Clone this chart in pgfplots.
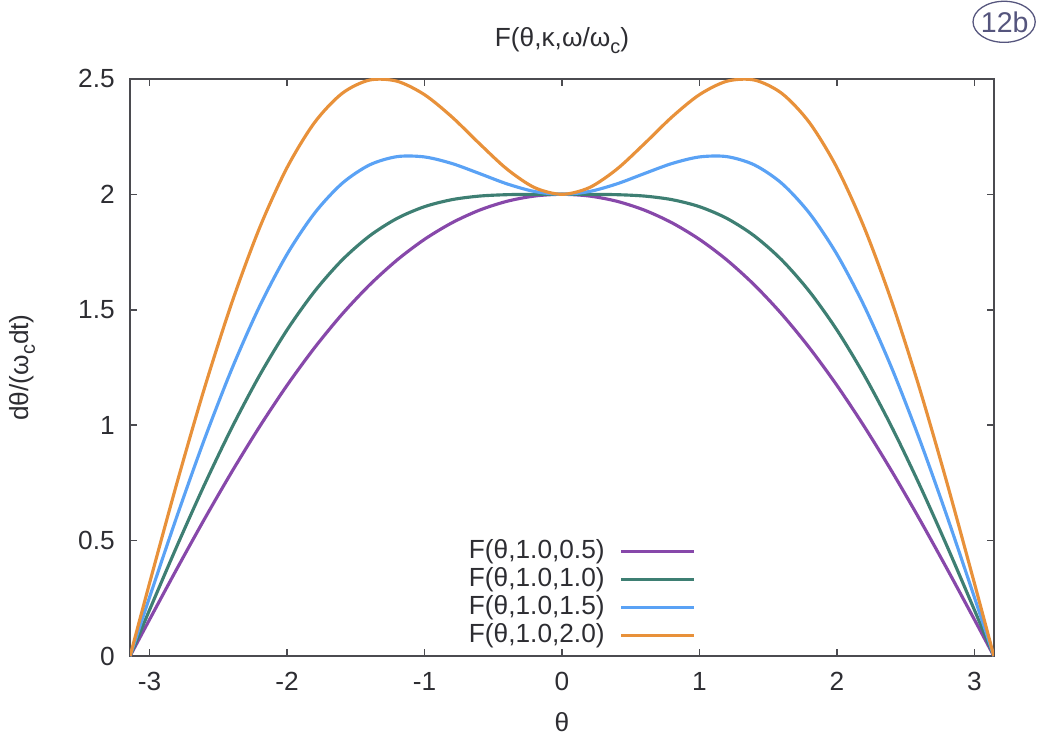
\documentclass[border=0pt]{standalone}
\usepackage{fontspec}
\setmainfont{Liberation Sans}
\usepackage{pgfplots}
\pgfplotsset{compat=1.18}
\usepackage{pgfplotstable}
\usetikzlibrary{calc}

\definecolor{cviolet}{RGB}{135,72,170}
\definecolor{cgreen}{RGB}{62,127,115}
\definecolor{cblue}{RGB}{90,162,245}
\definecolor{corange}{RGB}{232,145,58}
\definecolor{axgray}{RGB}{75,75,80}
\definecolor{txtgray}{RGB}{45,45,50}
\definecolor{pencil}{RGB}{85,85,125}

\newcommand{\lbl}{\fontsize{9.2}{11}\selectfont}
\newcommand{\sub}[1]{\raisebox{-0.45ex}{\fontsize{7}{8}\selectfont #1}}

% F(theta, kappa=1.0, omega/omega_c)
\pgfplotstableread{
theta    w05    w10    w15    w20
-3.1416  0      0      0      0
-3.0     0.1581 0.1998 0.2546 0.3157
-2.8     0.3790 0.4773 0.6067 0.7513
-2.6     0.5939 0.7429 0.9403 1.1616
-2.4     0.7995 0.9907 1.2457 1.5330
-2.2     0.9932 1.2152 1.5145 1.8541
-2.0     1.1724 1.4123 1.7401 2.1154
-1.8     1.3352 1.5792 1.9182 2.3107
-1.6     1.4803 1.7149 2.0469 2.4368
-1.4     1.6071 1.8196 2.1272 2.4949
-1.2     1.7152 1.8956 2.1632 2.4899
-1.0     1.8049 1.9465 2.1619 2.4316
-0.8     1.8767 1.9769 2.1334 2.3349
-0.6     1.9314 1.9924 2.0900 2.2194
-0.4     1.9698 1.9984 2.0453 2.1092
-0.2     1.9925 1.9999 2.0122 2.0293
0.0      2.0000 2.0000 2.0000 2.0000
0.2      1.9925 1.9999 2.0122 2.0293
0.4      1.9698 1.9984 2.0453 2.1092
0.6      1.9314 1.9924 2.0900 2.2194
0.8      1.8767 1.9769 2.1334 2.3349
1.0      1.8049 1.9465 2.1619 2.4316
1.2      1.7152 1.8956 2.1632 2.4899
1.4      1.6071 1.8196 2.1272 2.4949
1.6      1.4803 1.7149 2.0469 2.4368
1.8      1.3352 1.5792 1.9182 2.3107
2.0      1.1724 1.4123 1.7401 2.1154
2.2      0.9932 1.2152 1.5145 1.8541
2.4      0.7995 0.9907 1.2457 1.5330
2.6      0.5939 0.7429 0.9403 1.1616
2.8      0.3790 0.4773 0.6067 0.7513
3.0      0.1581 0.1998 0.2546 0.3157
3.1416   0      0      0      0
}\Fdata

\begin{document}
\begin{tikzpicture}
\begin{axis}[
    scale only axis, width=302.75pt, height=202.3pt,
    xmin=-3.14159, xmax=3.14159, ymin=0, ymax=2.5,
    xtick={-3,-2,-1,0,1,2,3}, xticklabels={-3,-2,-1,0,1,2,3},
    ytick={0,0.5,1,1.5,2,2.5}, yticklabels={0,0.5,1,1.5,2,2.5},
    tick align=inside, major tick length=2.5pt,
    axis line style={axgray, line width=0.55pt},
    tick style={axgray, line width=0.55pt},
    font=\lbl,
    tick label style={font=\lbl, text=txtgray},
    xticklabel style={inner sep=0pt, anchor=north, yshift=-5.4pt},
    yticklabel style={inner sep=0pt, anchor=east, xshift=-5.2pt},
    title={F(θ,κ,ω/ω\sub{c})},
    title style={at={(axis description cs:0.5,1)}, anchor=base, yshift=5.2pt, text=txtgray},
    xlabel={θ},
    xlabel style={at={(axis description cs:0.5,0)}, anchor=base, yshift=-26.3pt, text=txtgray},
    ylabel={dθ/(ω\sub{c}dt)},
    ylabel style={at={(axis description cs:0,0.5)}, anchor=center, yshift=37.8pt, text=txtgray},
    legend plot pos=right,
    legend cell align=right,
    legend image code/.code={\draw[#1] (0pt,0pt) -- (25.5pt,0pt);},
    legend style={draw=none, fill=none, at={(axis description cs:0.665,0.001)}, anchor=south east,
        font=\lbl, text=txtgray,
        nodes={inner sep=0.4pt, text height=6.9pt, text depth=2.1pt},
        column sep=4.8pt},
]
\addplot[cviolet, line width=1.1pt, smooth, tension=0.5] table[x=theta, y=w05] {\Fdata};
\addlegendentry{F(θ,1.0,0.5)}
\addplot[cgreen, line width=1.1pt, smooth, tension=0.5] table[x=theta, y=w10] {\Fdata};
\addlegendentry{F(θ,1.0,1.0)}
\addplot[cblue, line width=1.1pt, smooth, tension=0.5] table[x=theta, y=w15] {\Fdata};
\addlegendentry{F(θ,1.0,1.5)}
\addplot[corange, line width=1.1pt, smooth, tension=0.5] table[x=theta, y=w20] {\Fdata};
\addlegendentry{F(θ,1.0,2.0)}
\coordinate (sw) at (rel axis cs:0,0);
\coordinate (ne) at (rel axis cs:1,1);
\end{axis}
% pencil mark in the corner of the scanned page
\draw[pencil, line width=0.45pt] ($(ne)+(3.6pt,20.0pt)$) ellipse [x radius=10.9pt, y radius=7.2pt];
\node[pencil, font=\fontsize{10}{11}\selectfont] at ($(ne)+(3.8pt,20.0pt)$) {12b};
\path ($(sw)+(-45.5pt,-29.4pt)$) rectangle ($(ne)+(15.05pt,27.65pt)$);
\end{tikzpicture}
\end{document}
